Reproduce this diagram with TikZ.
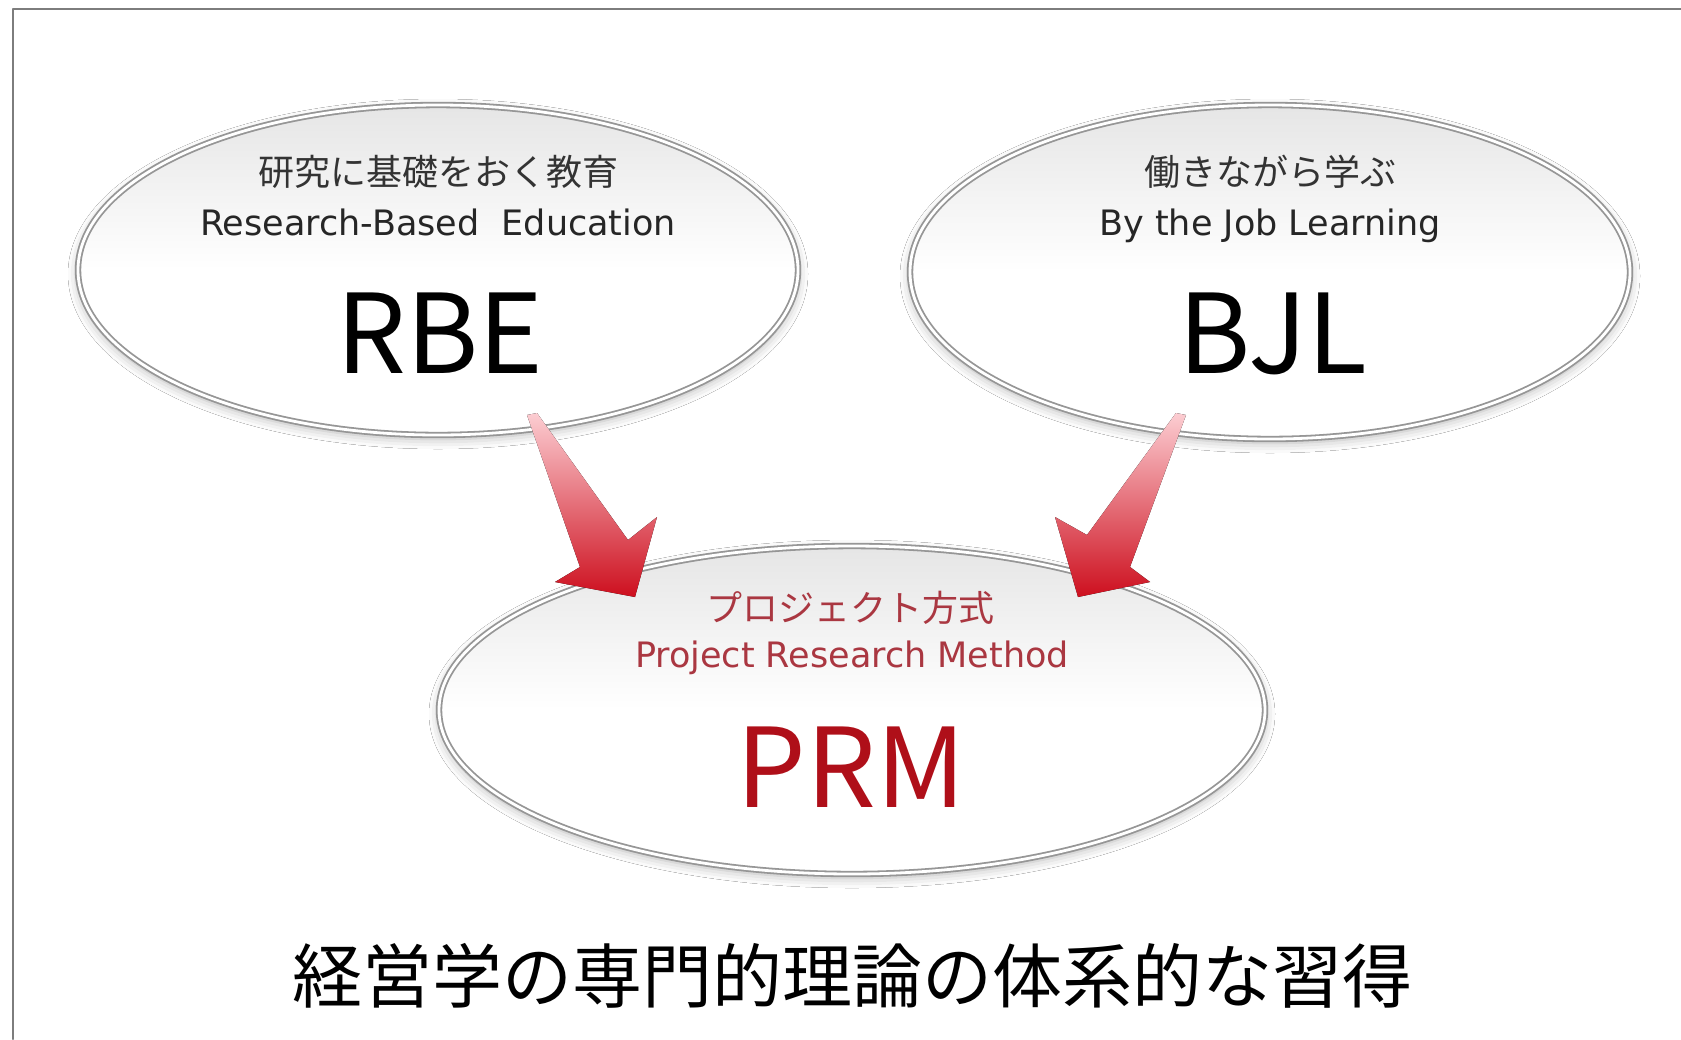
\documentclass[tikz,border=0pt]{standalone}
\usepackage{fontspec}
\setmainfont{Noto Sans CJK JP}
\newfontfamily\latinfont{DejaVu Sans}
\usepackage{tikz}
\usetikzlibrary{shapes.geometric, calc, shadows.blur}
\definecolor{rimgrey}{RGB}{150,150,150}
\definecolor{framegrey}{RGB}{125,125,125}
\definecolor{PRMred}{RGB}{175,15,25}
\definecolor{PRMsub}{RGB}{170,55,65}
\definecolor{arrowpink}{RGB}{252,205,210}
\definecolor{arrowred}{RGB}{205,15,30}
\tikzset{every path/.style={line cap=round, line join=round}}

\begin{document}
\begin{tikzpicture}[
    x=0.5pt, y=-0.5pt,
    bubble/.style={
        ellipse,
        inner sep=0pt,
        draw=rimgrey,
        line width=0.9pt,
        double=white,
        double distance=1.4pt,
        top color=gray!20,
        bottom color=white,
        middle color=white,
        blur shadow={shadow xshift=0pt, shadow yshift=-2pt,
            shadow blur radius=5pt, shadow opacity=30}
    },
    jp/.style={anchor=base, font=\fontsize{18}{18}\selectfont, text=black!80},
    en/.style={anchor=base, font=\latinfont\fontsize{17.5}{18}\selectfont, text=black!85},
    abbr/.style={anchor=base, font=\fontsize{55}{55}\selectfont},
    bigarrow/.style={top color=arrowpink, bottom color=arrowred, draw=none}
]

\fill[white] (0,0) rectangle (1681,1039);
\useasboundingbox (0,0) rectangle (1681,1039);
\draw[framegrey, line width=1.1pt] (13,1039) -- (13,9) -- (1681,9);

% the three bubbles
\node[bubble, minimum width=360pt, minimum height=165pt] (rbe) at (438,270) {};
\node[bubble, minimum width=360pt, minimum height=167pt] (bjl) at (1270,272) {};
\node[bubble, minimum width=413pt, minimum height=164pt] (prm) at (852,710) {};

\node[jp] (rbe-jp) at (438,185) {研究に基礎をおく教育};
\node[en] (rbe-en) at (438,235) {Research-Based\ \ Education};
\node[abbr] (rbe-abbr) at (440,373) {RBE};

\node[jp] (bjl-jp) at (1270,185) {働きながら学ぶ};
\node[en] (bjl-en) at (1270,235) {By the Job Learning};
\node[abbr] (bjl-abbr) at (1273,373) {BJL};

\node[jp, text=PRMsub] (prm-jp) at (850,621) {プロジェクト方式};
\node[en, text=PRMsub] (prm-en) at (852,667) {Project Research Method};
\node[abbr, text=PRMred] (prm-abbr) at (851,807) {PRM};

% arrows into PRM
\coordinate (rbe-tail) at (532,414);
\coordinate (prm-tipl) at (635,597);
\coordinate (bjl-tail) at (1181,414);
\coordinate (prm-tipr) at (1078,597);

\fill[bigarrow] ($(rbe-tail)+(-5,1)$) -- ($(rbe-tail)+(5,-1)$) -- (628,540) -- (657,517)
    -- (prm-tipl) -- (555,582) -- (580,567) -- cycle;
\fill[bigarrow] ($(bjl-tail)+(-5,-1)$) -- ($(bjl-tail)+(5,1)$) -- (1130,567) -- (1150,582)
    -- (prm-tipr) -- (1055,517) -- (1087,535) -- cycle;

\node[anchor=base, font=\fontsize{35}{36}\selectfont] (goal) at (852,1002)
{経営学の専門的理論の体系的な習得};

\end{tikzpicture}
\end{document}
